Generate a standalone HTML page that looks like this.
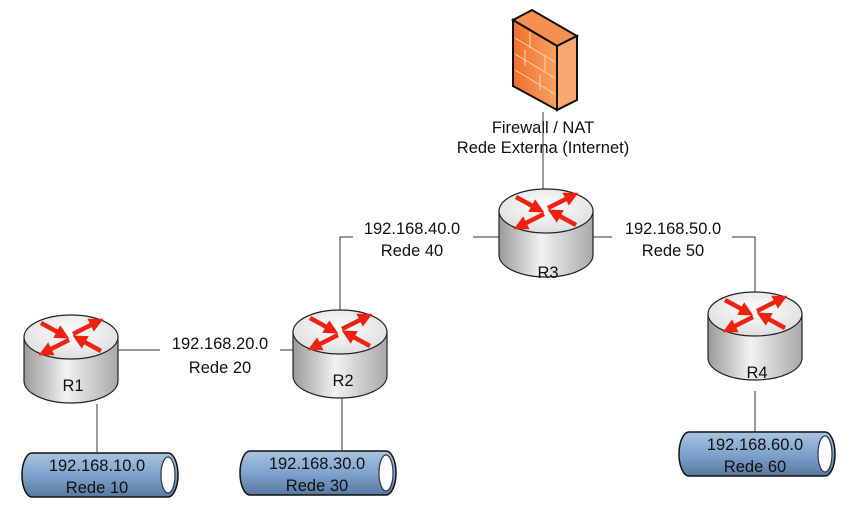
<!DOCTYPE html><html><head><style>body{margin:0;background:#fff}svg{display:block}text{font-family:"Liberation Sans",sans-serif;font-size:16.5px;fill:#111}</style></head><body>
<svg width="854" height="516" viewBox="0 0 854 516">
<defs>
<marker id="ah" viewBox="0 0 10 10" refX="5" refY="5" markerWidth="3.2" markerHeight="3.2" orient="auto"><path d="M0 0 L10 5 L0 10Z" fill="#e21"/></marker>
<linearGradient id="rb" x1="0" x2="1"><stop offset="0" stop-color="#9a9a9a"/><stop offset=".45" stop-color="#f2f2f2"/><stop offset="1" stop-color="#a8a8a8"/></linearGradient>
<radialGradient id="rt" cx=".5" cy=".4" r=".7"><stop offset="0" stop-color="#fff"/><stop offset="1" stop-color="#d8d8d8"/></radialGradient>
<linearGradient id="pg" x1="0" y1="0" x2="0" y2="1"><stop offset="0" stop-color="#a9c4e0"/><stop offset=".5" stop-color="#7ea3cc"/><stop offset="1" stop-color="#56799f"/></linearGradient>
<linearGradient id="fw" x1="0" x2="1"><stop offset="0" stop-color="#f07030"/><stop offset="1" stop-color="#fba060"/></linearGradient>
<g id="router">
<path d="M-47 0 V44 A47 22 0 0 0 47 44 V0 Z" fill="url(#rb)" stroke="#222" stroke-width="1.2"/>
<ellipse cx="0" cy="0" rx="47" ry="22" fill="url(#rt)" stroke="#222" stroke-width="1.2"/>
<g stroke="#e21" stroke-width="4.5" marker-end="url(#ah)">
<line x1="-30" y1="-14" x2="-8" y2="-2"/>
<line x1="30" y1="14" x2="8" y2="2"/>
<line x1="2" y1="-3" x2="26" y2="-15"/>
<line x1="-2" y1="3" x2="-26" y2="15"/>
</g></g>
<g id="pipe">
<path d="M12 0 H148 A10 22 0 0 1 148 44 H12 A10 22 0 0 1 12 0Z" fill="url(#pg)" stroke="#111" stroke-width="1.5"/>
<ellipse cx="148" cy="22" rx="7" ry="18" fill="#fff" stroke="#335" stroke-width="1.2"/>
</g>
</defs>
<g stroke="#333" stroke-width="1" fill="none">
<path d="M543 112 V190"/>
<path d="M499 237 H340 V310"/>
<path d="M593 237 H755 V292"/>
<path d="M118 350 H293"/>
<path d="M97 404 V452"/>
<path d="M342 397 V450"/>
<path d="M755 391 V432"/>
</g>
<polygon points="513,20 532,10 577,36 557,46" fill="#f59050" stroke="#111" stroke-width="2"/>
<polygon points="557,46 577,36 577,100 557,110" fill="#f7a870" stroke="#111" stroke-width="2"/>
<polygon points="513,20 557,46 557,110 513,86" fill="url(#fw)" stroke="#111" stroke-width="2"/>
<g stroke="#fcd2b0" stroke-width="1"><path d="M515 38 L555 62 M515 54 L555 78 M515 70 L555 94 M530 32 V48 M545 56 V72 M525 50 V66 M540 74 V90"/></g>
<rect x="353" y="216" width="120" height="44" fill="#fff"/>
<rect x="612" y="216" width="120" height="44" fill="#fff"/>
<rect x="160" y="330" width="120" height="46" fill="#fff"/>
<use href="#router" x="546" y="211"/>
<use href="#router" x="340" y="332"/>
<use href="#router" x="71" y="337"/>
<use href="#router" x="755" y="314"/>
<use href="#pipe" x="20" y="453"/>
<use href="#pipe" x="238" y="451"/>
<use href="#pipe" x="677" y="432"/>
<g text-anchor="middle">
<text x="543" y="133">Firewall / NAT</text>
<text x="543" y="153">Rede Externa (Internet)</text>
<text x="412" y="234">192.168.40.0</text><text x="412" y="256">Rede 40</text>
<text x="673" y="234">192.168.50.0</text><text x="673" y="256">Rede 50</text>
<text x="220" y="349">192.168.20.0</text><text x="220" y="373">Rede 20</text>
<text x="548" y="278">R3</text><text x="343" y="386">R2</text><text x="73" y="391">R1</text><text x="757" y="378">R4</text>
<text x="97" y="471">192.168.10.0</text><text x="97" y="493">Rede 10</text>
<text x="317" y="469">192.168.30.0</text><text x="317" y="491">Rede 30</text>
<text x="755" y="450">192.168.60.0</text><text x="755" y="472">Rede 60</text>
</g>
</svg></body></html>
